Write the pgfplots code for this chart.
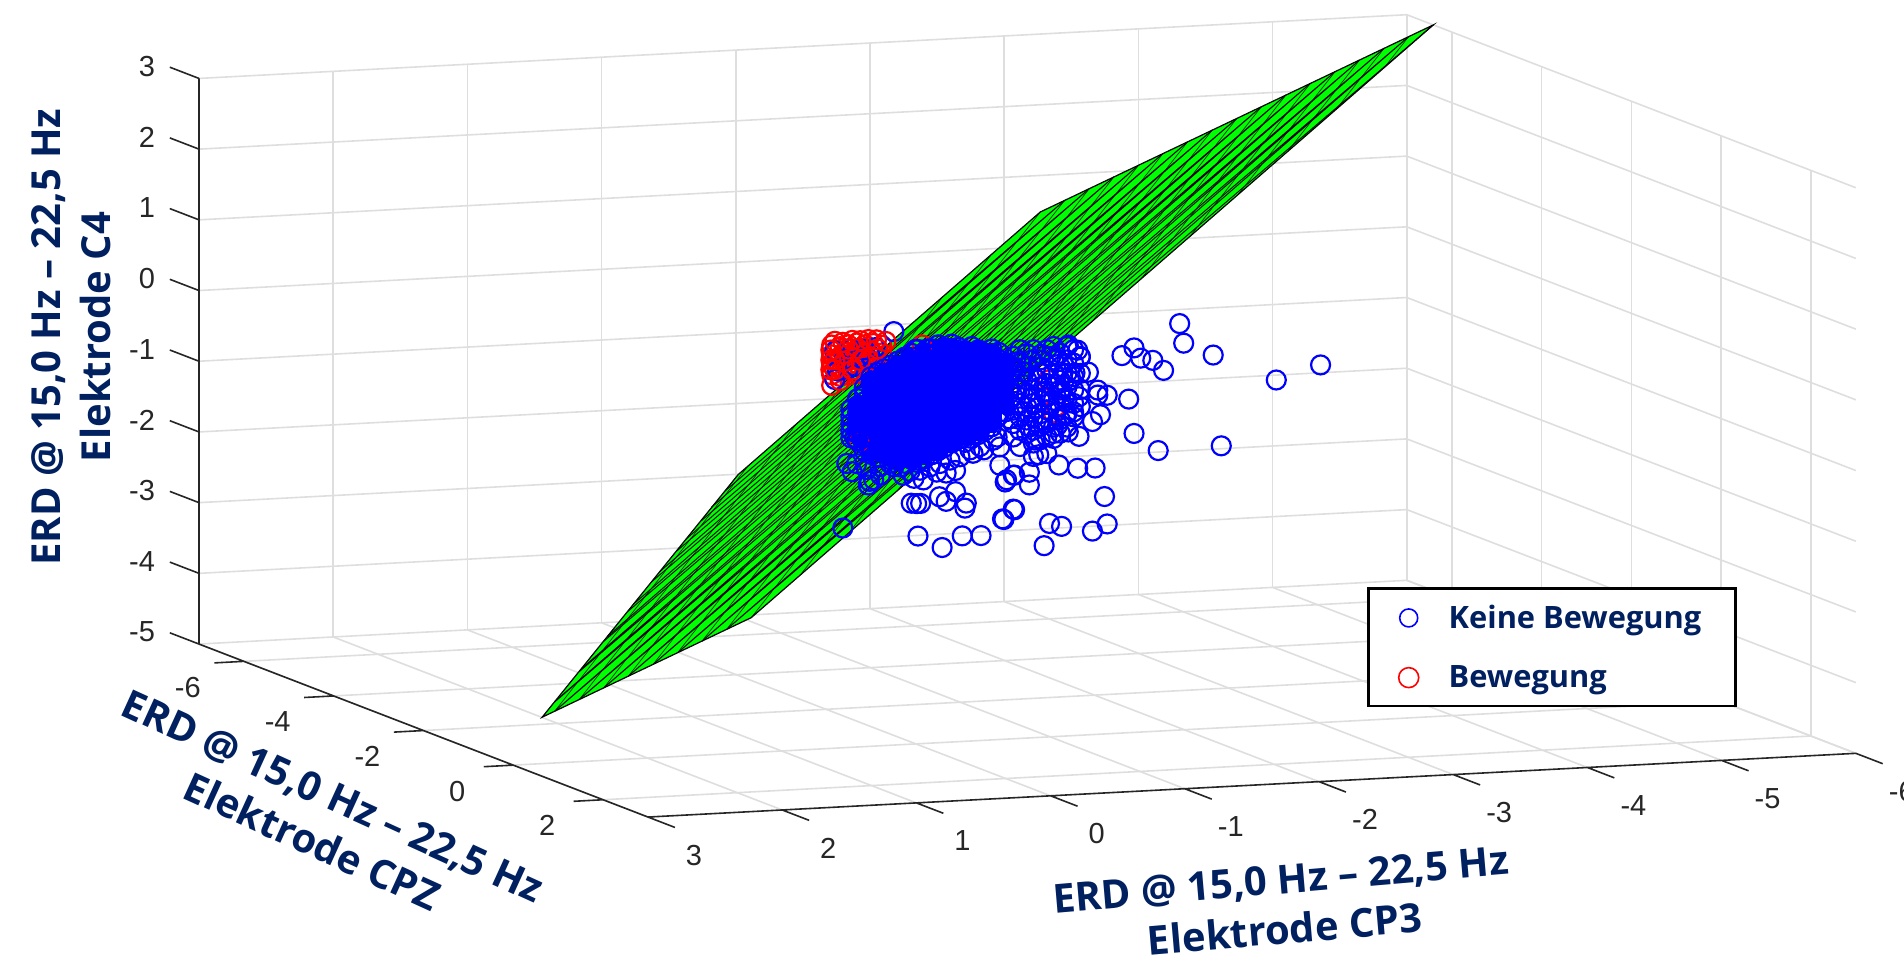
\documentclass[border=0pt]{standalone}
\usepackage{fontspec}
\usepackage{pgfplots}
\pgfplotsset{compat=1.18}
\setmainfont{Liberation Sans}
\newfontfamily\lab{Open Sans}
\definecolor{navy}{HTML}{002060}
\definecolor{tickc}{HTML}{262626}
\definecolor{gridc}{HTML}{DEDEDE}
\definecolor{pgreen}{RGB}{0,255,0}
\pgfplotsset{
 bp/.style={only marks,mark=o,mark size=4.75pt,color=blue,line width=1.1pt,forget plot},
 bf/.style={only marks,mark=*,mark size=4.75pt,color=blue,line width=0pt,forget plot},
 rp/.style={only marks,mark=o,mark size=4.75pt,color=red,line width=1.1pt,forget plot},
}
\begin{document}
\begin{tikzpicture}
\path[use as bounding box] (0,0) rectangle (952pt,477pt);
\begin{axis}[
 at={(457.95pt,281.8pt)},anchor=origin,
 x={(-67.1pt,-3.54pt)},y={(22.45pt,-8.65pt)},z={(0pt,35.35pt)},
 xmin=-6,xmax=3,ymin=-7,ymax=3,zmin=-5,zmax=3,
 clip=false,
 axis line style={draw=none},
 major tick length=0pt,
 grid=major,
 major grid style={color=gridc,line width=0.8pt},
 xtick={-6,-5,-4,-3,-2,-1,0,1,2,3},
 xticklabels={-6,-5,-4,-3,-2,-1,0,1,2,3},
 ytick={-6,-4,-2,0,2},
 yticklabels={-6,-4,-2,0,2},
 ztick={-5,-4,-3,-2,-1,0,1,2,3},
 zticklabels={-5,-4,-3,-2,-1,0,1,2,3},
 tick label style={font=\fontsize{14.5}{17}\selectfont,color=tickc,anchor=center},
 x tick label style={xshift=23pt,yshift=-19pt},
 y tick label style={xshift=-28pt,yshift=-13pt},
 z tick label style={anchor=east,xshift=-18.5pt,yshift=6pt},
 xlabel={ERD @ 15,0 Hz – 22,5 Hz\\Elektrode CP3},
 ylabel={ERD @ 15,0 Hz – 22,5 Hz\\Elektrode CPZ},
 zlabel={ERD @ 15,0 Hz – 22,5 Hz\\Elektrode C4},
 xlabel style={at={(axis cs:-1.73,3,-6.71)},anchor=center,rotate=4.9,align=center,font=\lab\bfseries\fontsize{20}{25}\selectfont,color=navy},
 ylabel style={at={(axis cs:3,-4.25,-6.80)},anchor=center,rotate=-24.5,align=center,font=\lab\bfseries\fontsize{20}{25}\selectfont,color=navy},
 zlabel style={at={(axis cs:3,-9.85,-1.355)},anchor=center,rotate=0,align=center,font=\lab\bfseries\fontsize{20}{25}\selectfont,color=navy},
 legend style={at={(axis cs:-4.74,0,-4.11)},anchor=center,draw=black,line width=1.3pt,fill=white,font=\lab\bfseries\fontsize{15.4}{18}\selectfont,text=navy,row sep=13pt,inner xsep=15pt,inner ysep=6pt,/tikz/column 1/.style={column sep=13pt}},
 legend cell align=left,
]
\addlegendimage{only marks,mark=o,mark size=4.5pt,color=blue,line width=0.8pt}
\addlegendentry{Keine Bewegung}
\addlegendimage{only marks,mark=o,mark size=5pt,color=red,line width=0.8pt}
\addlegendentry{Bewegung}
% axis lines and ticks
\addplot3[tickc,line width=0.8pt,no marks,unbounded coords=jump,forget plot] table {
3 -7 3
3 -7 -5
3 3 -5
-6 3 -5
nan nan nan
3 3 -5
3 3.6 -5
nan nan nan
2 3 -5
2 3.6 -5
nan nan nan
1 3 -5
1 3.6 -5
nan nan nan
0 3 -5
0 3.6 -5
nan nan nan
-1 3 -5
-1 3.6 -5
nan nan nan
-2 3 -5
-2 3.6 -5
nan nan nan
-3 3 -5
-3 3.6 -5
nan nan nan
-4 3 -5
-4 3.6 -5
nan nan nan
-5 3 -5
-5 3.6 -5
nan nan nan
-6 3 -5
-6 3.6 -5
nan nan nan
3 -6 -5
3.22 -6 -5
nan nan nan
3 -4 -5
3.22 -4 -5
nan nan nan
3 -2 -5
3.22 -2 -5
nan nan nan
3 0 -5
3.22 0 -5
nan nan nan
3 2 -5
3.22 2 -5
nan nan nan
3 -7 -5
3 -7.65 -5
nan nan nan
3 -7 -4
3 -7.65 -4
nan nan nan
3 -7 -3
3 -7.65 -3
nan nan nan
3 -7 -2
3 -7.65 -2
nan nan nan
3 -7 -1
3 -7.65 -1
nan nan nan
3 -7 0
3 -7.65 0
nan nan nan
3 -7 1
3 -7.65 1
nan nan nan
3 -7 2
3 -7.65 2
nan nan nan
3 -7 3
3 -7.65 3
};
% points behind the plane
\addplot3[rp] coordinates {(-0.376,-3,-0.13)(-0.376,-3,-0.27)(-0.376,-3,-0.41)(-0.376,-3,-0.55)(-0.376,-3,-0.70)(-0.438,-3,-0.16)(-0.438,-3,-0.30)(-0.438,-3,-0.44)(-0.438,-3,-0.58)(-0.50,-3,-0.14)(-0.50,-3,-0.28)(-0.50,-3,-0.42)(-0.50,-3,-0.57)(-0.563,-3,-0.12)(-0.563,-3,-0.27)(-0.563,-3,-0.41)(-0.563,-3,-0.55)(-0.624,-3,-0.15)(-0.624,-3,-0.30)(-0.624,-3,-0.44)(-0.687,-3,-0.14)(-0.687,-3,-0.28)(-0.687,-3,-0.40)(-0.749,-3,-0.17)(-0.749,-3,-0.28)(-0.41,-3,-0.20)(-0.47,-3,-0.24)(-0.53,-3,-0.35)(-0.60,-3,-0.20)(-0.45,-3,-0.50)(-0.66,-3,-0.22)};
\addplot3[bp] coordinates {(-0.40,-3,-0.22)(-0.47,-3,-0.35)(-0.52,-3,-0.20)(-0.58,-3,-0.33)(-0.42,-3,-0.50)(-0.50,-3,-0.48)(-0.40,-3,-0.62)(-0.62,-3,-0.22)(-0.66,-3,-0.30)(-0.55,-3,-0.45)(-0.70,-3,-0.20)(-0.17,-1,0.57)};
\addplot3[rp] coordinates {(-0.40,-3,-0.08)(-0.46,-3,-0.10)(-0.53,-3,-0.08)(-0.59,-3,-0.09)(-0.65,-3,-0.08)(-0.71,-3,-0.09)(-0.40,-3,-0.34)(-0.47,-3,-0.37)(-0.53,-3,-0.50)(-0.59,-3,-0.37)(-0.40,-3,-0.48)(-0.44,-3,-0.64)(-0.50,-3,-0.20)(-0.65,-3,-0.37)(-0.72,-3,-0.22)(-0.78,-3,-0.12)(-0.57,-3,-0.20)(-0.37,-3,-0.20)(-0.37,-3,-0.34)(-0.37,-3,-0.48)};
% separating plane
\addplot3[fill=pgreen,draw=black,line width=0.6pt,forget plot] coordinates {(-6,-6.41,3)(-2.068,-3.41,1.482)(0.628,-2.081,-1.637)(2.178,-1.814,-4.848)(0.086,-3.41,-4.04)} -- cycle;
\addplot3[black,line width=0.45pt,no marks,unbounded coords=jump,forget plot] table {
-5.754 -6.223 2.905
0.332 -3.223 -4.135
nan nan nan
-5.508 -6.035 2.81
0.578 -3.035 -4.23
nan nan nan
-5.263 -5.848 2.715
0.823 -2.848 -4.325
nan nan nan
-5.017 -5.66 2.62
1.069 -2.66 -4.42
nan nan nan
-4.771 -5.473 2.526
1.315 -2.473 -4.514
nan nan nan
-4.525 -5.285 2.431
1.561 -2.285 -4.609
nan nan nan
-4.28 -5.098 2.336
1.806 -2.098 -4.704
nan nan nan
-4.034 -4.91 2.241
2.052 -1.91 -4.799
nan nan nan
-3.788 -4.723 2.146
2.079 -1.831 -4.641
nan nan nan
-3.542 -4.535 2.051
1.868 -1.868 -4.208
nan nan nan
-3.296 -4.348 1.956
1.664 -1.903 -3.782
nan nan nan
-3.051 -4.16 1.861
1.459 -1.937 -3.356
nan nan nan
-2.805 -3.973 1.767
1.248 -1.975 -2.922
nan nan nan
-2.559 -3.785 1.672
1.044 -2.009 -2.496
nan nan nan
-2.313 -3.598 1.577
0.84 -2.044 -2.07
nan nan nan
-6 -6.41 3
0.332 -3.223 -4.135
nan nan nan
-5.754 -6.223 2.905
0.578 -3.035 -4.23
nan nan nan
-5.508 -6.035 2.81
0.823 -2.848 -4.325
nan nan nan
-5.263 -5.848 2.715
1.069 -2.66 -4.42
nan nan nan
-5.017 -5.66 2.62
1.315 -2.473 -4.514
nan nan nan
-4.771 -5.473 2.526
1.561 -2.285 -4.609
nan nan nan
-4.525 -5.285 2.431
1.806 -2.098 -4.704
nan nan nan
-4.28 -5.098 2.336
2.052 -1.91 -4.799
nan nan nan
-4.034 -4.91 2.241
2.081 -1.832 -4.65
nan nan nan
-3.788 -4.723 2.146
1.885 -1.866 -4.247
nan nan nan
-3.542 -4.535 2.051
1.694 -1.899 -3.849
nan nan nan
-3.296 -4.348 1.956
1.503 -1.931 -3.452
nan nan nan
-3.051 -4.16 1.861
1.311 -1.964 -3.055
nan nan nan
-2.805 -3.973 1.767
1.113 -2 -2.65
nan nan nan
-2.559 -3.785 1.672
0.921 -2.033 -2.252
nan nan nan
-2.313 -3.598 1.577
0.733 -2.063 -1.855
};
\addplot3[black,line width=0.25pt,no marks,unbounded coords=jump,forget plot] table {
-5.754 -6.223 2.905
-5.565 -6.196 2.497
nan nan nan
-5.508 -6.035 2.81
-5.131 -5.981 1.994
nan nan nan
-5.263 -5.848 2.715
-4.696 -5.767 1.491
nan nan nan
-5.017 -5.66 2.62
-4.261 -5.553 0.989
nan nan nan
-4.771 -5.473 2.526
-3.827 -5.339 0.486
nan nan nan
-4.525 -5.285 2.431
-3.392 -5.124 -0.017
nan nan nan
-4.28 -5.098 2.336
-2.957 -4.91 -0.52
nan nan nan
-4.034 -4.91 2.241
-2.522 -4.696 -1.023
nan nan nan
-3.788 -4.723 2.146
-2.088 -4.481 -1.526
nan nan nan
-3.542 -4.535 2.051
-1.653 -4.267 -2.029
nan nan nan
-3.296 -4.348 1.956
-1.218 -4.053 -2.531
nan nan nan
-3.051 -4.16 1.861
-0.784 -3.839 -3.034
nan nan nan
-2.805 -3.973 1.767
-0.349 -3.624 -3.537
nan nan nan
-2.559 -3.785 1.672
0.086 -3.41 -4.04
nan nan nan
-2.313 -3.598 1.577
0.332 -3.223 -4.135
nan nan nan
-2.068 -3.41 1.482
0.578 -3.035 -4.23
nan nan nan
-1.633 -3.196 0.979
0.823 -2.848 -4.325
nan nan nan
-1.198 -2.981 0.476
1.069 -2.66 -4.42
nan nan nan
-0.764 -2.767 -0.027
1.315 -2.473 -4.514
nan nan nan
-0.329 -2.553 -0.529
1.561 -2.285 -4.609
nan nan nan
0.106 -2.339 -1.032
1.806 -2.098 -4.704
nan nan nan
0.54 -2.124 -1.535
2.052 -1.91 -4.799
};
% overplotted core of the blue cloud
\addplot3[bf] coordinates {
(0.1,-1,-0.45)(0.1,-1,-0.6)(0.1,-1,-0.75)(0.1,-1,-0.85)
(0,-1,-0.1)(0,-1,-0.25)(0,-1,-0.4)(0,-1,-0.55)(0,-1,-0.7)(0,-1,-0.85)(0,-1,-1)(0,-1,-1.1)
(-0.1,-1,0)(-0.1,-1,-0.15)(-0.1,-1,-0.3)(-0.1,-1,-0.45)(-0.1,-1,-0.6)(-0.1,-1,-0.75)(-0.1,-1,-0.9)(-0.1,-1,-1.05)(-0.1,-1,-1.15)
(-0.2,-1,0.1)(-0.2,-1,-0.05)(-0.2,-1,-0.2)(-0.2,-1,-0.35)(-0.2,-1,-0.5)(-0.2,-1,-0.65)(-0.2,-1,-0.8)(-0.2,-1,-0.95)(-0.2,-1,-1.1)(-0.2,-1,-1.2)
(-0.3,-1,0.2)(-0.3,-1,0.05)(-0.3,-1,-0.1)(-0.3,-1,-0.25)(-0.3,-1,-0.4)(-0.3,-1,-0.55)(-0.3,-1,-0.7)(-0.3,-1,-0.85)(-0.3,-1,-1)(-0.3,-1,-1.15)(-0.3,-1,-1.25)
(-0.4,-1,0.25)(-0.4,-1,0.1)(-0.4,-1,-0.05)(-0.4,-1,-0.2)(-0.4,-1,-0.35)(-0.4,-1,-0.5)(-0.4,-1,-0.65)(-0.4,-1,-0.8)(-0.4,-1,-0.95)(-0.4,-1,-1.1)(-0.4,-1,-1.2)
(-0.5,-1,0.3)(-0.5,-1,0.15)(-0.5,-1,0)(-0.5,-1,-0.15)(-0.5,-1,-0.3)(-0.5,-1,-0.45)(-0.5,-1,-0.6)(-0.5,-1,-0.75)(-0.5,-1,-0.9)(-0.5,-1,-1.05)(-0.5,-1,-1.15)
(-0.6,-1,0.3)(-0.6,-1,0.15)(-0.6,-1,0)(-0.6,-1,-0.15)(-0.6,-1,-0.3)(-0.6,-1,-0.45)(-0.6,-1,-0.6)(-0.6,-1,-0.75)(-0.6,-1,-0.9)(-0.6,-1,-1.05)
(-0.7,-1,0.25)(-0.7,-1,0.1)(-0.7,-1,-0.05)(-0.7,-1,-0.2)(-0.7,-1,-0.35)(-0.7,-1,-0.5)(-0.7,-1,-0.65)(-0.7,-1,-0.8)(-0.7,-1,-0.95)
(-0.8,-1,0.25)(-0.8,-1,0.1)(-0.8,-1,-0.05)(-0.8,-1,-0.2)(-0.8,-1,-0.35)(-0.8,-1,-0.5)(-0.8,-1,-0.65)(-0.8,-1,-0.8)(-0.8,-1,-0.9)
(-0.9,-1,0.2)(-0.9,-1,0.05)(-0.9,-1,-0.1)(-0.9,-1,-0.25)(-0.9,-1,-0.4)(-0.9,-1,-0.55)(-0.9,-1,-0.7)(-0.9,-1,-0.8)
(-1,-1,0.05)(-1,-1,-0.1)(-1,-1,-0.25)(-1,-1,-0.4)(-1,-1,-0.55)
};
\addplot3[rp] coordinates {(0.09,-1,-0.96)(-0.38,-1,0.36)(-1.36,-1,-0.70)(-1.38,-1,-0.61)(-1.32,-1,-0.23)};
% rim of the dense core
\addplot3[bp] coordinates {
(0.15,-1,-0.5)(0.15,-1,-0.6)(0.15,-1,-0.7)(0.15,-1,-0.8)(0.15,-1,-0.9)
(0.1,-1,-0.35)(0.1,-1,-0.45)(0.1,-1,-0.55)(0.1,-1,-0.65)(0.1,-1,-0.75)(0.1,-1,-0.85)(0.1,-1,-0.95)
(0.05,-1,-0.2)(0.05,-1,-0.3)(0.05,-1,-0.4)(0.05,-1,-0.9)(0.05,-1,-1)(0.05,-1,-1.1)
(0,-1,-0.05)(0,-1,-0.15)(0,-1,-1.05)(0,-1,-1.15)
(-0.05,-1,0)(-0.05,-1,-0.1)(-0.05,-1,-1.1)(-0.05,-1,-1.2)
(-0.1,-1,0.05)(-0.1,-1,-0.05)(-0.1,-1,-1.15)
(-0.15,-1,0.1)(-0.15,-1,0)(-0.15,-1,-1.1)(-0.15,-1,-1.2)
(-0.2,-1,0.15)(-0.2,-1,0.05)(-0.2,-1,-1.15)(-0.2,-1,-1.25)
(-0.25,-1,0.2)(-0.25,-1,0.1)(-0.25,-1,-1.2)(-0.25,-1,-1.3)
(-0.3,-1,0.25)(-0.3,-1,0.15)(-0.3,-1,-1.25)
(-0.35,-1,0.3)(-0.35,-1,0.2)(-0.35,-1,-1.2)(-0.35,-1,-1.3)
(-0.4,-1,0.25)(-0.4,-1,-1.25)
(-0.45,-1,0.3)(-0.45,-1,0.2)(-0.45,-1,-1.1)(-0.45,-1,-1.2)
(-0.5,-1,0.35)(-0.5,-1,0.25)(-0.5,-1,-1.15)
(-0.55,-1,0.3)(-0.55,-1,-1)(-0.55,-1,-1.1)
(-0.6,-1,0.35)(-0.6,-1,-1.05)
(-0.65,-1,0.3)(-0.65,-1,-0.9)(-0.65,-1,-1)
(-0.7,-1,0.25)(-0.7,-1,-0.95)(-0.7,-1,-1.05)
(-0.75,-1,0.3)(-0.75,-1,-0.9)(-0.75,-1,-1)
(-0.8,-1,0.25)(-0.8,-1,-0.85)(-0.8,-1,-0.95)
(-0.85,-1,0.2)(-0.85,-1,-0.8)(-0.85,-1,-0.9)
(-0.9,-1,0.25)(-0.9,-1,-0.75)(-0.9,-1,-0.85)
(-0.95,-1,0.2)(-0.95,-1,0.1)(-0.95,-1,-0.7)
(-1,-1,0.05)(-1,-1,-0.65)
(0.107,-1,-1.27)(0.032,-1,-1.36)(-0.067,-1,-1.33)(-0.14,-1,-1.29)(-0.216,-1,-1.35)(-0.29,-1,-1.42)(-0.365,-1,-1.41)(-0.44,-1,-1.37)(-0.514,-1,-1.33)(-0.589,-1,-1.29)(-0.663,-1,-1.25)(-0.738,-1,-1.16)(-0.812,-1,-1.12)(-0.912,-1,-1.04)
(0.07,-1,-0.92)(-0.33,-1,0.30)(-0.42,-1,0.30)
};
% outer part of the blue cloud
\addplot3[bp] coordinates {
(0.12,-1,-0.9)(-1.06,-1,0.13)(-1.06,-1,-0.06)(-1.06,-1,-0.25)(-1.06,-1,-0.44)(-1.06,-1,-0.63)(-1.06,-1,-0.82)
(-1.11,-1,0.22)(-1.11,-1,0.03)(-1.11,-1,-0.16)(-1.11,-1,-0.35)(-1.11,-1,-0.54)(-1.11,-1,-0.73)(-1.11,-1,-0.92)
(-1.16,-1,0.16)(-1.16,-1,-0.02)(-1.16,-1,-0.21)(-1.16,-1,-0.40)(-1.16,-1,-0.59)(-1.16,-1,-0.78)(-1.16,-1,-0.97)
(-1.21,-1,0.21)(-1.21,-1,-0.17)(-1.21,-1,-0.36)(-1.21,-1,-0.55)(-1.21,-1,-0.74)(-1.21,-1,-0.93)(-1.21,-1,-1.11)
(-1.26,-1,0.06)(-1.26,-1,-0.13)(-1.26,-1,-0.32)(-1.26,-1,-0.51)(-1.26,-1,-0.70)(-1.26,-1,-0.88)(-1.26,-1,-1.07)
(-1.31,-1,0.20)(-1.31,-1,-0.09)(-1.31,-1,-0.28)(-1.31,-1,-0.47)(-1.31,-1,-0.65)(-1.31,-1,-0.84)(-1.31,-1,-1.03)
(-1.36,-1,0.24)(-1.36,-1,0.05)(-1.36,-1,-0.14)(-1.36,-1,-0.33)(-1.36,-1,-0.52)(-1.36,-1,-0.90)(-1.36,-1,-1.06)
(-1.41,-1,0.14)(-1.41,-1,-0.05)(-1.41,-1,-0.24)(-1.41,-1,-0.43)(-1.41,-1,-0.61)(-1.41,-1,-0.80)(-1.41,-1,-0.99)
(-1.46,-1,0.23)(-1.46,-1,0.04)(-1.46,-1,-0.15)(-1.46,-1,-0.34)(-1.46,-1,-0.53)(-1.46,-1,-0.72)(-1.46,-1,-0.91)
(-1.51,-1,0.18)(-1.51,-1,-0.01)(-1.51,-1,-0.20)(-1.51,-1,-0.39)(-1.51,-1,-0.58)(-1.51,-1,-0.77)
(-1.56,-1,0.08)(-1.56,-1,-0.16)(-1.56,-1,-0.39)(-1.56,-1,-0.63)
(-1.08,-1,0.05)(-1.14,-1,-0.10)(-1.09,-1,-0.34)(-1.19,-1,-0.48)(-1.13,-1,-0.66)(-1.24,-1,-0.22)(-1.29,-1,-0.40)(-1.23,-1,-0.62)(-1.33,-1,-0.56)(-1.28,-1,-0.80)(-1.18,-1,-0.88)(-1.38,-1,-0.30)(-1.43,-1,-0.15)(-1.34,-1,0.10)(-1.44,-1,-0.50)(-1.39,-1,-0.88)(-1.48,-1,-0.25)(-1.27,-1,0.14)(-1.19,-1,0.06)(-1.03,-1,-0.75)(-1.03,-1,0.02)(-1.03,-1,-0.35)
(-2.30,-1,0.47)(-2.33,-1,0.19)(-2.55,-1,0)(-3.35,-1,-0.22)(-3.02,-1,-0.40)(-2.61,-1,-1.29)(-2.14,-1,-1.31)(-1.96,-1,-1.05)(-1.92,-1,-0.56)(-1.87,-1,0.06)(-1.96,-1,0.16)(-2.01,-1,0.01)(-2.10,-1,-0.03)(-2.18,-1,-0.18)(-1.76,-1,-0.49)(-1.69,-1,-0.41)(-1.69,-1,-0.48)(-1.71,-1,-0.76)(-1.65,-1,-0.85)(-1.62,-1,-0.15)(-1.55,-1,-1.05)(-1.47,-1,-0.98)(-1.55,-1,-0.49)(-1.67,-1,-1.51)(-1.54,-1,-1.50)(-1.40,-1,-1.44)(-1.74,-1,-1.92)(-1.76,-1,-2.31)(-1.65,-1,-2.40)(-1.42,-1,-2.31)(-1.33,-1,-2.26)(-1.29,-1,-2.57)(-1.18,-1,-1.70)(-1.18,-1,-1.52)(-1.06,-1,-2.03)(-1.07,-1,-2.04)(-0.99,-1,-2.17)(-1.01,-1,-1.61)(-1.07,-1,-1.55)(-1.54,-1,0.17)(-1.47,-1,0.25)(-1.31,-1,-1.27)(-1.25,-1,-1.28)(-1.21,-1,-1.30)(-1.22,-1,-1.07)(-1.36,-1,-0.99)(-1.45,-1,-0.74)(-1.51,-1,-0.70)(-1.41,-1,-0.38)(-1.52,-1,-0.15)(-1.56,-1,0.07)
(0.21,-1,-2.17)(-0.35,-1,-2.34)(-0.53,-1,-2.52)(-0.68,-1,-2.37)(-0.82,-1,-2.38)(-0.98,-1,-2.16)(-0.30,-1,-1.87)(-0.34,-1,-1.88)(-0.37,-1,-1.88)(-0.51,-1,-1.80)(-0.56,-1,-1.87)(-0.63,-1,-1.74)(-0.70,-1,-1.98)(-0.71,-1,-1.91)(-0.96,-1,-1.40)(-1.00,-1,-1.64)(-1.06,-1,-1.55)(-0.63,-1,-1.44)(-0.56,-1,-1.47)(-0.49,-1,-1.45)(-0.39,-1,-1.55)(-0.32,-1,-1.52)(0.18,-1,-1.26)(0.14,-1,-1.38)(0.01,-1,-1.53)(-0.02,-1,-1.51)(0.02,-1,-1.58)(-0.07,-1,-1.45)(-0.17,-1,-1.34)(-0.24,-1,-1.47)(-0.76,-1,-1.21)(-0.84,-1,-1.17)(-0.96,-1,-1.14)(-0.94,-1,-1.00)(-1.06,-1,-1.01)(-1.11,-1,-1.15)
};
\end{axis}
\end{tikzpicture}
\end{document}
